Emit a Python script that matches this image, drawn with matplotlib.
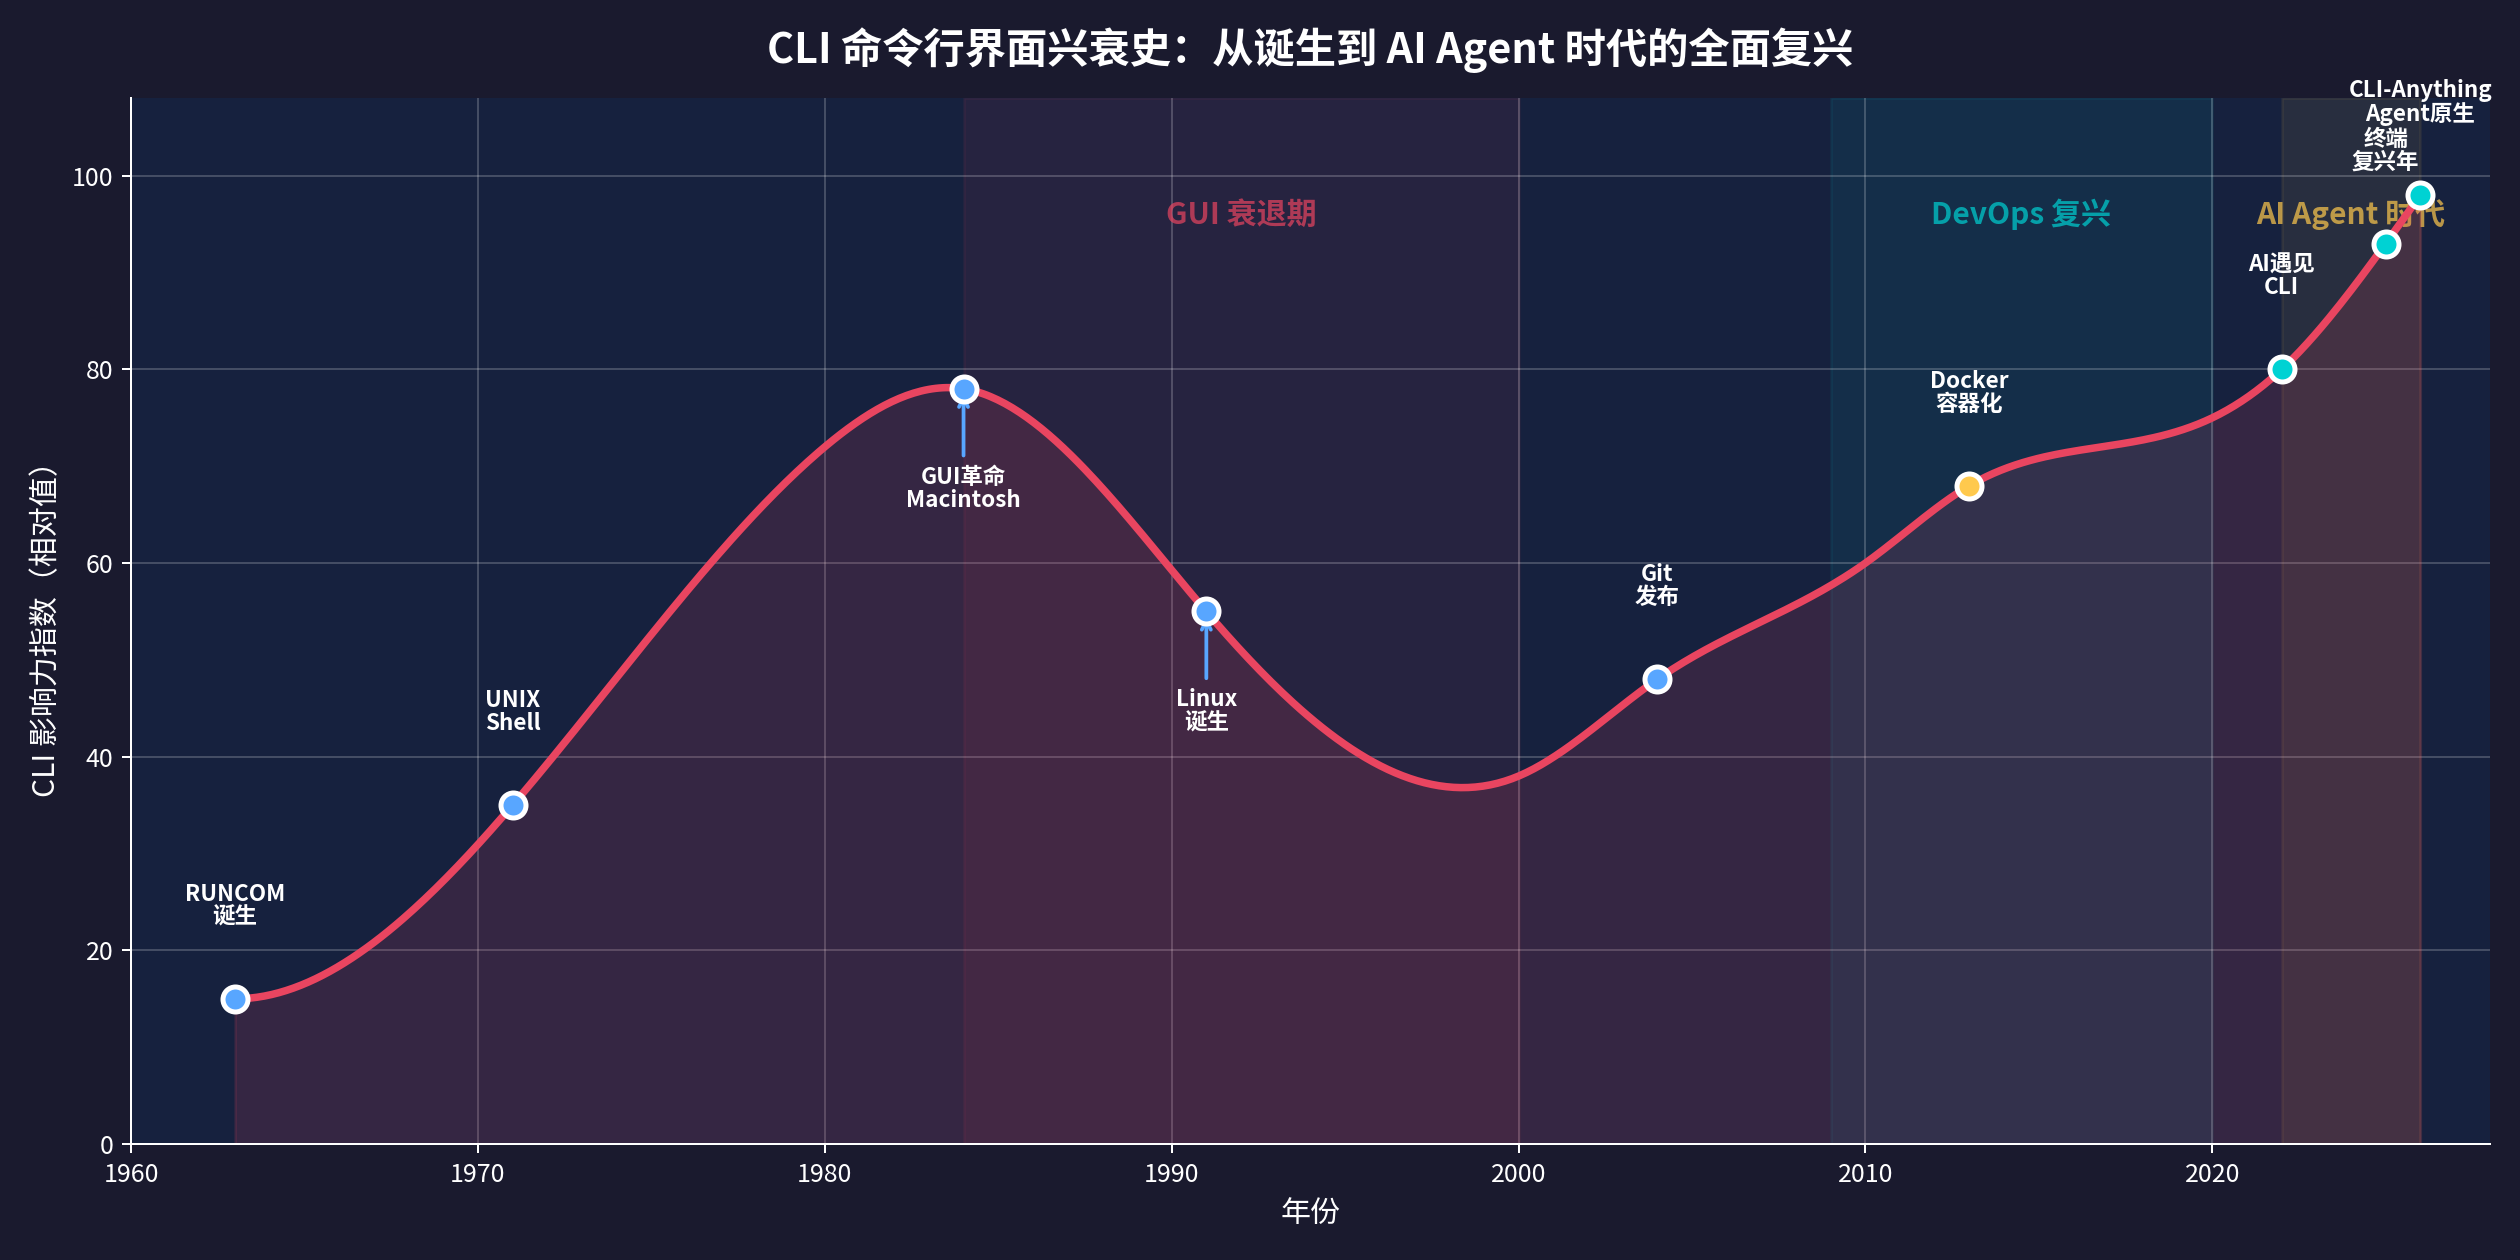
import numpy as np
import matplotlib
matplotlib.use('Agg')
import matplotlib.pyplot as plt

plt.rcParams['font.family'] = ['Noto Sans CJK SC', 'DejaVu Sans']
plt.rcParams['axes.unicode_minus'] = False

# Curve keyframes (year, influence index)
curve_years = [1963, 1971, 1980, 1984, 1991, 2000, 2004, 2010, 2013, 2020, 2022, 2025, 2026]
curve_values = [15, 35, 72, 78, 55, 38, 48, 60, 68, 75, 80, 93, 98]

# Milestone events
years = [1963, 1971, 1984, 1991, 2004, 2013, 2022, 2025, 2026]
influence = [15, 35, 78, 55, 48, 68, 80, 93, 98]
events = ["RUNCOM\n诞生", "UNIX\nShell", "GUI革命\nMacintosh", "Linux\n诞生", "Git\n发布",
          "Docker\n容器化", "AI遇见\nCLI", "终端\n复兴年", "CLI-Anything\nAgent原生"]
label_below = [False, False, True, True, False, False, False, False, False]
point_colors = ['#58a6ff', '#58a6ff', '#58a6ff', '#58a6ff', '#58a6ff',
                '#ffc94d', '#00d2d3', '#00d2d3', '#00d2d3']

era_names = ["GUI 衰退期", "DevOps 复兴", "AI Agent 时代"]
era_start = [1984, 2009, 2022]
era_end = [2000, 2020, 2026]
era_colors = ['#e94560', '#00d2d3', '#ffc94d']

# Colours
BG = '#1a1a2e'
AX_BG = '#16213e'
LINE = '#e94560'


def smooth(x, y, xs):
    # not-a-knot cubic spline, numpy only
    x = np.asarray(x, float)
    y = np.asarray(y, float)
    n = len(x)
    m = n - 1
    h = np.diff(x)
    A = np.zeros((4 * m, 4 * m))
    r = np.zeros(4 * m)
    row = 0
    for i in range(m):
        k = 4 * i
        A[row, k] = 1
        r[row] = y[i]
        row += 1
        A[row, k:k + 4] = [1, h[i], h[i] ** 2, h[i] ** 3]
        r[row] = y[i + 1]
        row += 1
    for i in range(m - 1):
        k = 4 * i
        A[row, k:k + 4] = [0, 1, 2 * h[i], 3 * h[i] ** 2]
        A[row, k + 5] = -1
        row += 1
        A[row, k:k + 4] = [0, 0, 2, 6 * h[i]]
        A[row, k + 6] = -2
        row += 1
    A[row, 3] = 1
    A[row, 7] = -1
    row += 1
    A[row, 4 * (m - 2) + 3] = 1
    A[row, 4 * (m - 1) + 3] = -1
    coef = np.linalg.solve(A, r).reshape(m, 4)
    idx = np.clip(np.searchsorted(x, xs, side='right') - 1, 0, m - 1)
    t = xs - x[idx]
    c = coef[idx]
    return c[:, 0] + c[:, 1] * t + c[:, 2] * t ** 2 + c[:, 3] * t ** 3


fig, ax = plt.subplots(figsize=(14, 7), dpi=180)
fig.patch.set_facecolor(BG)
ax.set_facecolor(AX_BG)

# Era bands
for name, s, e, c in zip(era_names, era_start, era_end, era_colors):
    ax.axvspan(s, e, color=c, alpha=0.08, zorder=0)
    ax.text((s + e) / 2, 96, name, color=c, alpha=0.7, fontsize=12,
            fontweight='bold', ha='center', va='center', zorder=1)

# Curve
xs = np.linspace(curve_years[0], curve_years[-1], 600)
ys = smooth(curve_years, curve_values, xs)
ax.fill_between(xs, ys, 0, color=LINE, alpha=0.15, zorder=1)
ax.plot(xs, ys, color=LINE, lw=3, zorder=3)

# Points + labels
for x, y, txt, below, c in zip(years, influence, events, label_below, point_colors):
    ax.plot(x, y, 'o', ms=10, mfc=c, mec='white', mew=2, zorder=5)
    if below:
        ax.annotate(txt, xy=(x, y), xytext=(x, y - 10.3), ha='center', va='center',
                    fontsize=9, fontweight='bold', color='white', zorder=4, linespacing=1.0,
                    arrowprops=dict(arrowstyle='->', color='#58a6ff', lw=1.5))
    else:
        ax.annotate(txt, xy=(x, y), xytext=(x, y + 9.6), ha='center', va='center',
                    fontsize=9, fontweight='bold', color='white', zorder=4, linespacing=1.0,
                    annotation_clip=False)

ax.set_xlim(1960, 2028)
ax.set_ylim(0, 108)
ax.set_xticks(range(1960, 2021, 10))
ax.set_yticks(range(0, 101, 20))
ax.grid(True, color='white', alpha=0.2, lw=0.8)
ax.set_axisbelow(True)

for side in ['top', 'right']:
    ax.spines[side].set_visible(False)
for side in ['left', 'bottom']:
    ax.spines[side].set_color('white')
ax.tick_params(colors='white', labelsize=10)

ax.set_xlabel("年份", color='white', fontsize=12)
ax.set_ylabel("CLI 影响力指数（相对值）", color='white', fontsize=12)
ax.set_title("CLI 命令行界面兴衰史：从诞生到 AI Agent 时代的全面复兴",
             color='white', fontsize=16.5, fontweight='bold', pad=14)

fig.subplots_adjust(left=0.052, right=0.988, bottom=0.092, top=0.922)
fig.savefig('out.png', dpi=180, facecolor=BG)
